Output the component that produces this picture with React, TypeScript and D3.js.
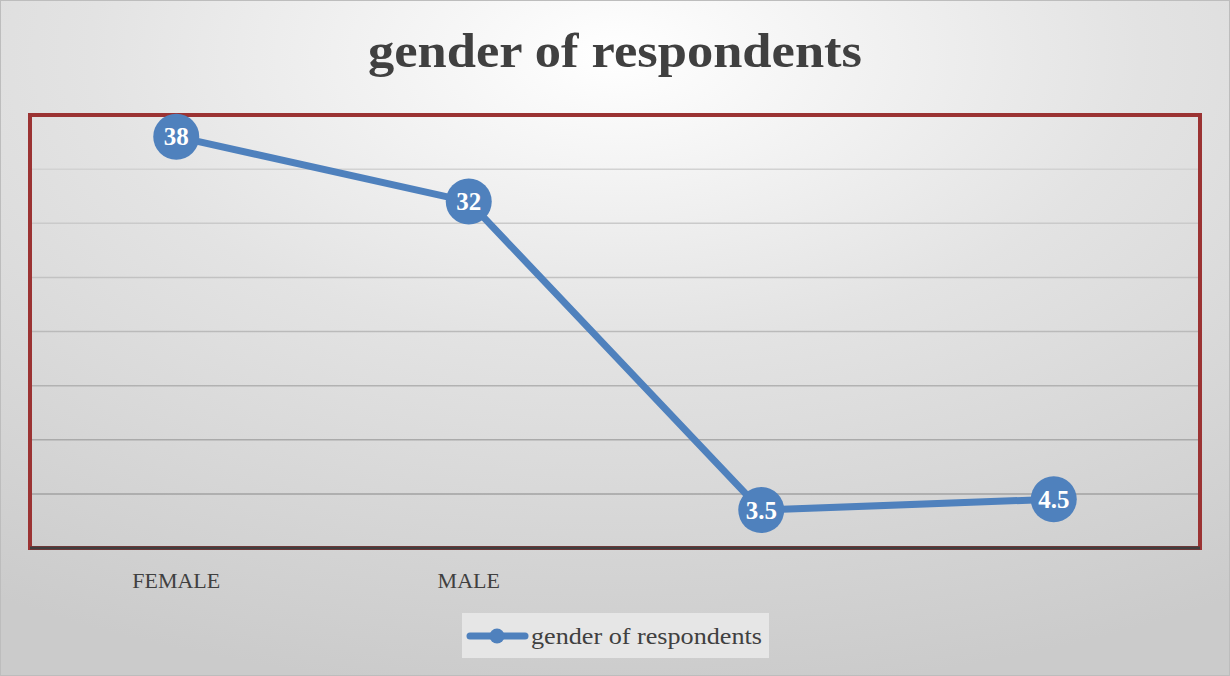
import React from "react";
import * as d3 from "d3";

const categories = ["FEMALE", "MALE", "", " "];
const values = [38, 32, 3.5, 4.5];
const valueLabels = ["38", "32", "3.5", "4.5"];
const yTicks = [0, 5, 10, 15, 20, 25, 30, 35, 40];
const seriesName = "gender of respondents";
const titleText = "gender of respondents";

const W = 1230;
const H = 676;
const plot = { left: 30, right: 1200, top: 115, bottom: 548 };
const FONT = "'Liberation Serif', 'DejaVu Serif', serif";
const BLUE = "#4f81bd";

export default function App() {
  const x = d3.scaleBand<string>().domain(categories).range([plot.left, plot.right]);
  const y = d3.scaleLinear().domain([0, 40]).range([plot.bottom, plot.top]);
  const gridColor = d3.scaleLinear<string>().domain([40, 0]).range(["#dadada", "#9a9a9a"]);
  const line = d3
    .line<number>()
    .x((_, i) => (x(categories[i]) as number) + x.bandwidth() / 2)
    .y((d) => y(d));

  return (
    <svg
      width={W}
      height={H}
      style={{ position: "absolute", left: 0, top: 0, display: "block" }}
    >
      <defs>
        <radialGradient id="bg" cx="50%" cy="8%" r="95%" fx="50%" fy="8%">
          <stop offset="0%" stopColor="#ffffff" />
          <stop offset="45%" stopColor="#e3e3e3" />
          <stop offset="100%" stopColor="#cbcbcb" />
        </radialGradient>
      </defs>
      <rect x={0.5} y={0.5} width={W - 1} height={H - 1} fill="url(#bg)" stroke="#bdbdbd" />
      <text
        x={368}
        y={67}
        textLength={494}
        lengthAdjust="spacingAndGlyphs"
        fontFamily={FONT}
        fontWeight="bold"
        fontSize={48}
        fill="#404040"
      >
        {titleText}
      </text>

      {yTicks.slice(1, -1).map((t) => (
        <line
          key={t}
          x1={plot.left}
          x2={plot.right}
          y1={y(t)}
          y2={y(t)}
          stroke={gridColor(t)}
          strokeWidth={1.5}
        />
      ))}

      <rect
        x={plot.left}
        y={plot.top}
        width={plot.right - plot.left}
        height={plot.bottom - plot.top}
        fill="none"
        stroke="#9b3333"
        strokeWidth={4}
      />
      <line x1={plot.left} x2={plot.right} y1={plot.bottom} y2={plot.bottom} stroke="#3f3f3f" strokeWidth={3} />

      {categories.map((c) => (
        <text
          key={c}
          x={(x(c) as number) + x.bandwidth() / 2}
          y={588}
          textAnchor="middle"
          fontFamily={FONT}
          fontSize={22}
          fill="#404040"
        >
          {c}
        </text>
      ))}

      <path d={line(values) || ""} fill="none" stroke={BLUE} strokeWidth={7} strokeLinejoin="round" />
      {values.map((v, i) => {
        const cx = (x(categories[i]) as number) + x.bandwidth() / 2;
        const cy = y(v);
        return (
          <g key={i}>
            <circle cx={cx} cy={cy} r={23} fill={BLUE} />
            <text
              x={cx}
              y={cy + 8.5}
              textAnchor="middle"
              fontFamily={FONT}
              fontWeight="bold"
              fontSize={25}
              fill="#ffffff"
            >
              {valueLabels[i]}
            </text>
          </g>
        );
      })}

      <rect x={462} y={613} width={307} height={45} fill="#e6e6e6" />
      <line x1={470} x2={525} y1={636} y2={636} stroke={BLUE} strokeWidth={7} strokeLinecap="round" />
      <circle cx={497} cy={636} r={7.5} fill={BLUE} />
      <text
        x={531}
        y={644}
        textLength={231}
        lengthAdjust="spacingAndGlyphs"
        fontFamily={FONT}
        fontSize={24}
        fill="#404040"
      >
        {seriesName}
      </text>
    </svg>
  );
}
